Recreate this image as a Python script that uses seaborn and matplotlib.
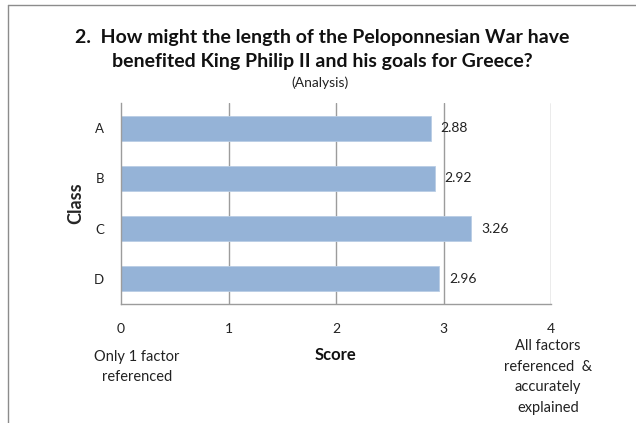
import matplotlib
matplotlib.use("Agg")
import matplotlib.pyplot as plt
import seaborn as sns
import pandas as pd
from matplotlib.lines import Line2D

classes = ["A", "B", "C", "D"]
scores = [2.88, 2.92, 3.26, 2.96]
x_ticks = [0, 1, 2, 3, 4]
title_lines = ["2.  How might the length of the Peloponnesian War have",
               "benefited King Philip II and his goals for Greece?"]
subtitle = "(Analysis)"
low_note = "Only 1 factor\nreferenced"
high_note = "All factors\nreferenced  &\naccurately\nexplained"

sns.set_theme(style="white")
plt.rcParams['font.family'] = ['Lato', 'DejaVu Sans']

df = pd.DataFrame({"Class": classes, "Score": scores})

fig = plt.figure(figsize=(6.36, 4.23), dpi=100)
ax = fig.add_axes([121/636, 1-304/423, 430/636, 201/423])

sns.barplot(data=df, y="Class", x="Score", orient="h", color="#95B3D7",
            width=0.5, ax=ax, saturation=1, edgecolor="#B9CDE5", linewidth=0.6,
            zorder=2)

ax.set_xlim(0, 4)
ax.set_xticks(x_ticks)
ax.set_xticklabels([str(t) for t in x_ticks], fontsize=10, color="#222222")
ax.tick_params(axis='x', pad=14, length=0)
ax.tick_params(axis='y', pad=12, length=0, labelsize=9.5, labelcolor="#222222")
ax.grid(False)
for t in x_ticks[1:]:
    ax.axvline(t, color="#9C9C9C", lw=1.0, zorder=1)
for s in ["top", "right"]:
    ax.spines[s].set_visible(False)
for s in ["left", "bottom"]:
    ax.spines[s].set_color("#9C9C9C")
    ax.spines[s].set_linewidth(1.0)

ax.set_xlabel("")
ax.set_ylabel("Class", fontsize=13, fontweight="bold", labelpad=7)

for i, v in enumerate(scores):
    ax.annotate(f"{v:.2f}", xy=(v, i), xytext=(7, 0), textcoords="offset points",
                ha="left", va="center", fontsize=10, color="#222222", zorder=3)

fig.text(322/636, 1-37/423, title_lines[0], ha="center", va="center",
         fontsize=14, fontweight="bold", color="#111111")
fig.text(322/636, 1-62/423, title_lines[1], ha="center", va="center",
         fontsize=14, fontweight="bold", color="#111111")
fig.text(320/636, 1-83/423, subtitle, ha="center", va="center",
         fontsize=10, color="#222222")

fig.text(137/636, 1-367/423, low_note, ha="center", va="center",
         fontsize=10.5, color="#222222", linespacing=1.55)
fig.text(335/636, 1-355/423, "Score", ha="center", va="center",
         fontsize=12, fontweight="bold", color="#111111")
fig.text(548/636, 1-377/423, high_note, ha="center", va="center",
         fontsize=10.5, color="#222222", linespacing=1.6)

fig.add_artist(Line2D([8/636, 8/636], [0, 1-5/423], transform=fig.transFigure,
                      color="#8C8C8C", lw=1.0))
fig.add_artist(Line2D([8/636, 1], [1-5/423, 1-5/423], transform=fig.transFigure,
                      color="#8C8C8C", lw=1.0))

fig.savefig("out.png", dpi=100)
